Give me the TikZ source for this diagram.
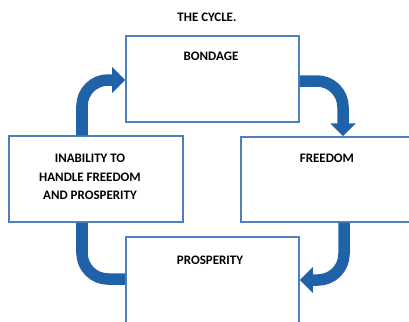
\documentclass[tikz,border=0pt]{standalone}
\usepackage{fontspec}
\setmainfont{Carlito}
\usetikzlibrary{arrows.meta}
\definecolor{boxblue}{HTML}{4F7FBF}
\definecolor{arrowblue}{HTML}{1F62A8}
\begin{document}
\begin{tikzpicture}[x=1bp,y=1bp,
  box/.style={draw=boxblue, line width=1.5bp, fill=white, rectangle, inner sep=0pt},
  lbl/.style={font=\bfseries\fontsize{13}{18.5}\selectfont, align=center, anchor=north, inner sep=0pt},
  flow/.style={draw=arrowblue, line width=11.5bp, rounded corners=26bp},
  tip/.style={-{Triangle[width=25bp,length=13bp]}}
]
\useasboundingbox (0,0) rectangle (409,-322);
% boxes
\node[box, minimum width=173bp, minimum height=86bp] (bond) at (212.5,-79) {};
\node[box, minimum width=174bp, minimum height=86bp] (inab) at (96,-179) {};
\node[box, minimum width=174bp, minimum height=85bp] (free) at (328,-179.5) {};
\node[box, minimum width=173bp, minimum height=86bp] (pros) at (212.5,-280) {};
% labels
\node[lbl] (title) at (207,-13) {THE CYCLE.};
\node[lbl] (tb) at (211,-52) {BONDAGE};
\node[lbl] (ti) at (90,-154) {INABILITY TO\\HANDLE FREEDOM\\AND PROSPERITY};
\node[lbl] (tf) at (327,-154) {FREEDOM};
\node[lbl] (tp) at (210,-256) {PROSPERITY};
% flows
\coordinate (a1) at (82,-80);
\coordinate (a2) at (343,-81);
\coordinate (a3) at (344,-280);
\coordinate (a4) at (82,-279);
\draw[flow, tip] ([xshift=-14bp]inab.north) |- (bond.west |- a1);
\draw[flow, tip] (bond.east |- a2) -| (free.north -| a2);
\draw[flow, tip] (free.south -| a3) |- (pros.east |- a3);
\draw[flow] ([xshift=-14bp]inab.south) |- (pros.west |- a4);
\end{tikzpicture}
\end{document}
